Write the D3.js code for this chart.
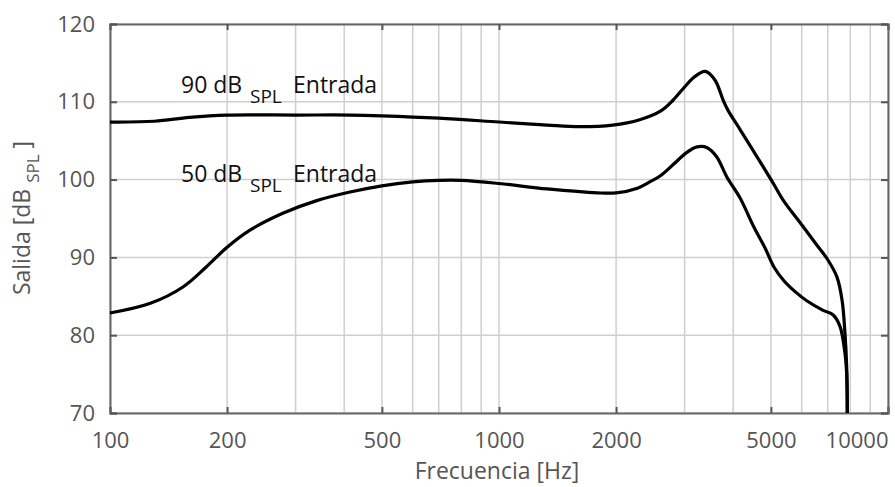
<!DOCTYPE html>
<html>
<head>
<meta charset="utf-8">
<script src="https://cdn.jsdelivr.net/npm/d3@7"></script>
<style>
  body { margin: 0; background: #fff; }
  text { font-family: "Open Sans", sans-serif; fill: #555; }
</style>
</head>
<body>
<svg id="chart" width="895" height="487"></svg>
<script>
// frequency response
var freq90  = [100, 130, 160, 200, 300, 414, 500, 700, 1000, 1330, 1610, 1960, 2300, 2600, 2800, 3000, 3160, 3390, 3590, 3770, 3880, 4170, 4610, 5060, 5370, 6000, 6560, 7000, 7390, 7620, 7750, 7830, 7860];
var level90 = [107.4, 107.5, 108.0, 108.3, 108.3, 108.3, 108.2, 107.9, 107.4, 107.0, 106.8, 107.0, 107.7, 108.8, 110.2, 111.9, 113.1, 113.9, 112.8, 110.2, 108.9, 106.4, 102.9, 99.6, 97.4, 94.2, 91.6, 89.7, 87.5, 84.5, 80.3, 76.0, 70];

var freq50  = [100, 127, 154, 177, 200, 229, 279, 340, 414, 500, 600, 700, 800, 1000, 1330, 1790, 2000, 2270, 2440, 2600, 2800, 3040, 3230, 3430, 3630, 3855, 4170, 4500, 4830, 5100, 5400, 5800, 6195, 6810, 7230, 7530, 7750, 7830, 7860];
var level50 = [82.85, 84.1, 86.2, 88.8, 91.3, 93.5, 95.7, 97.3, 98.4, 99.2, 99.7, 99.9, 99.9, 99.5, 98.8, 98.3, 98.3, 98.9, 99.7, 100.5, 101.9, 103.5, 104.2, 104.1, 102.9, 100.3, 97.6, 94.1, 91.2, 88.7, 87.0, 85.5, 84.4, 83.2, 82.6, 81.1, 77.7, 75.0, 70];

var xTicks = [100, 200, 500, 1000, 2000, 5000, 10000];
var yTicks = [70, 80, 90, 100, 110, 120];

var svg = d3.select("#chart");
var L = 110, R = 888, T = 24, B = 413;

var x = d3.scaleLog().domain([100, 10000]).range([L, R]);
var y = d3.scaleLinear().domain([70, 120]).range([B, T]);

// grid
var xGrid = [];
for (var d = 100; d <= 10000; d *= 10)
  for (var k = 1; k < 10 && d * k <= 10000; k++) xGrid.push(d * k);

svg.append("g").selectAll("line").data(xGrid).join("line")
  .attr("x1", function(d) { return x(d); })
  .attr("x2", function(d) { return x(d); })
  .attr("y1", T).attr("y2", B)
  .style("stroke", "#cfcfcf").style("stroke-width", 1.5);

svg.append("g").selectAll("line").data(yTicks).join("line")
  .attr("x1", L).attr("x2", R)
  .attr("y1", function(d) { return y(d); })
  .attr("y2", function(d) { return y(d); })
  .style("stroke", "#cfcfcf").style("stroke-width", 1.5);

// axes: ticks inward on all sides
var fmt = function(d) { return d; };
var gx = svg.append("g").attr("transform", "translate(0," + B + ")")
  .call(d3.axisBottom(x).tickValues(xTicks).tickFormat(fmt).tickSize(-6).tickPadding(19));
svg.append("g").attr("transform", "translate(0," + T + ")")
  .call(d3.axisTop(x).tickValues(xTicks).tickFormat("").tickSize(-6));
var gy = svg.append("g").attr("transform", "translate(" + L + ",0)")
  .call(d3.axisLeft(y).tickValues(yTicks).tickSize(-7).tickPadding(15));
svg.append("g").attr("transform", "translate(" + R + ",0)")
  .call(d3.axisRight(y).tickValues(yTicks).tickFormat("").tickSize(-7));

svg.selectAll(".domain").style("stroke", "#666").style("stroke-width", 2);
svg.selectAll(".tick line").style("stroke", "#555").style("stroke-width", 2);
svg.selectAll(".tick text").style("font-size", "22px").style("fill", "#555")
  .style("font-family", "'Open Sans', sans-serif");
gx.selectAll(".tick text").filter(function(d) { return d === 10000; })
  .attr("text-anchor", "end").attr("x", 0);

// curves
var line = d3.line()
  .x(function(d) { return x(d[0]); })
  .y(function(d) { return y(d[1]); })
  .curve(d3.curveCatmullRom.alpha(0.5));

[[freq90, level90], [freq50, level50]].forEach(function(s) {
  svg.append("path")
    .datum(d3.zip(s[0], s[1]))
    .attr("d", line)
    .style("fill", "none")
    .style("stroke", "#000")
    .style("stroke-width", 3.2);
});

// curve labels
function curveLabel(lvl, yBase) {
  var t = svg.append("text").attr("x", 181).attr("y", yBase)
    .style("font-size", "23px").style("fill", "#111");
  t.append("tspan").text(lvl + " dB");
  t.append("tspan").attr("x", 250).attr("dy", 10).style("font-size", "19px").text("SPL");
  t.append("tspan").attr("x", 293).attr("dy", -10).text("Entrada");
}
curveLabel(90, 93);
curveLabel(50, 182);

// axis titles
svg.append("text").attr("x", 497).attr("y", 479)
  .attr("text-anchor", "middle").style("font-size", "23px")
  .text("Frecuencia [Hz]");

var yt = svg.append("text")
  .attr("transform", "translate(30,218) rotate(-90)")
  .attr("text-anchor", "middle").style("font-size", "23px");
yt.append("tspan").text("Salida [dB ");
yt.append("tspan").attr("dy", 9).style("font-size", "17px").text("SPL");
yt.append("tspan").attr("dy", -9).text(" ]");
</script>
</body>
</html>
